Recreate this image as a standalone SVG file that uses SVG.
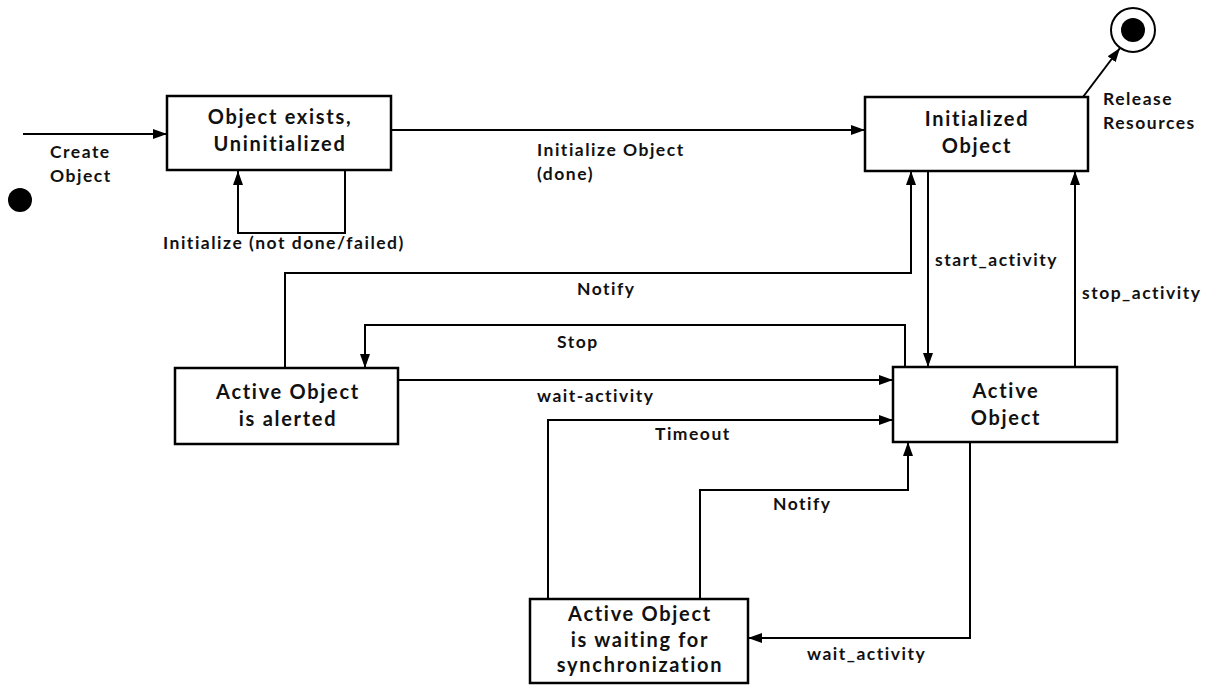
<svg xmlns="http://www.w3.org/2000/svg" width="1214" height="686" viewBox="0 0 1214 686">
<style>
.box{fill:#fff;stroke:#000;stroke-width:2.5}
.ln{fill:none;stroke:#000;stroke-width:2}
.nt{font-family:Lato,"Liberation Sans",sans-serif;font-weight:bold;font-size:20px;letter-spacing:1.7px;fill:#111;text-anchor:middle}
.lb{font-family:Lato,"Liberation Sans",sans-serif;font-weight:bold;font-size:17.5px;letter-spacing:1.5px;fill:#111}
</style>
<defs>
<marker id="ah" viewBox="0 0 14 10" refX="14" refY="5" markerWidth="14" markerHeight="10" markerUnits="userSpaceOnUse" orient="auto">
<path d="M0,0 L14,5 L0,10 z" fill="#000"/>
</marker>
</defs>
<rect width="1214" height="686" fill="#fff"/>
<g id="connectors">
<path class="ln" d="M23,134 H167" marker-end="url(#ah)"/>
<path class="ln" d="M345,170 V233 H238 V171" marker-end="url(#ah)"/>
<path class="ln" d="M391,130 H865" marker-end="url(#ah)"/>
<path class="ln" d="M1083,97 L1120,48" marker-end="url(#ah)"/>
<path class="ln" d="M928,171 V367" marker-end="url(#ah)"/>
<path class="ln" d="M1075,367 V171" marker-end="url(#ah)"/>
<path class="ln" d="M285,368 V273 H911 V171" marker-end="url(#ah)"/>
<path class="ln" d="M905,367 V325 H365 V368" marker-end="url(#ah)"/>
<path class="ln" d="M398,380 H893" marker-end="url(#ah)"/>
<path class="ln" d="M548,599 V420 H893" marker-end="url(#ah)"/>
<path class="ln" d="M700,599 V490 H908 V442" marker-end="url(#ah)"/>
<path class="ln" d="M970,442 V638 H748" marker-end="url(#ah)"/>
<text class="lb" x="50" y="158">Create</text>
<text class="lb" x="50" y="182">Object</text>
<text class="lb" x="163" y="249">Initialize (not done/failed)</text>
<text class="lb" x="537" y="156">Initialize Object</text>
<text class="lb" x="537" y="180">(done)</text>
<text class="lb" x="1103" y="105">Release</text>
<text class="lb" x="1103" y="129">Resources</text>
<text class="lb" x="935" y="266">start_activity</text>
<text class="lb" x="1082" y="299">stop_activity</text>
<text class="lb" x="577" y="295">Notify</text>
<text class="lb" x="557" y="348">Stop</text>
<text class="lb" x="537" y="402">wait-activity</text>
<text class="lb" x="655" y="440">Timeout</text>
<text class="lb" x="773" y="510">Notify</text>
<text class="lb" x="807" y="660">wait_activity</text>
</g>
<g id="initial">
<circle cx="20" cy="200" r="12" fill="#000"/>
</g>
<g id="final">
<circle cx="1133" cy="30" r="22" fill="#fff" stroke="#000" stroke-width="2"/>
<circle cx="1133" cy="30" r="12" fill="#000"/>
</g>
<g id="uninit">
<rect class="box" x="167" y="96" width="224" height="74"/>
<text class="nt" x="280" y="124">Object exists,</text>
<text class="nt" x="280" y="151">Uninitialized</text>
</g>
<g id="initialized">
<rect class="box" x="865" y="97" width="223" height="74"/>
<text class="nt" x="977" y="126">Initialized</text>
<text class="nt" x="977" y="153">Object</text>
</g>
<g id="alerted">
<rect class="box" x="175" y="368" width="223" height="76"/>
<text class="nt" x="288" y="399">Active Object</text>
<text class="nt" x="288" y="426">is alerted</text>
</g>
<g id="active">
<rect class="box" x="893" y="367" width="224" height="75"/>
<text class="nt" x="1006" y="398">Active</text>
<text class="nt" x="1006" y="425">Object</text>
</g>
<g id="waiting">
<rect class="box" x="530" y="599" width="218" height="84"/>
<text class="nt" x="640" y="621">Active Object</text>
<text class="nt" x="640" y="647">is waiting for</text>
<text class="nt" x="640" y="672">synchronization</text>
</g>
</svg>
